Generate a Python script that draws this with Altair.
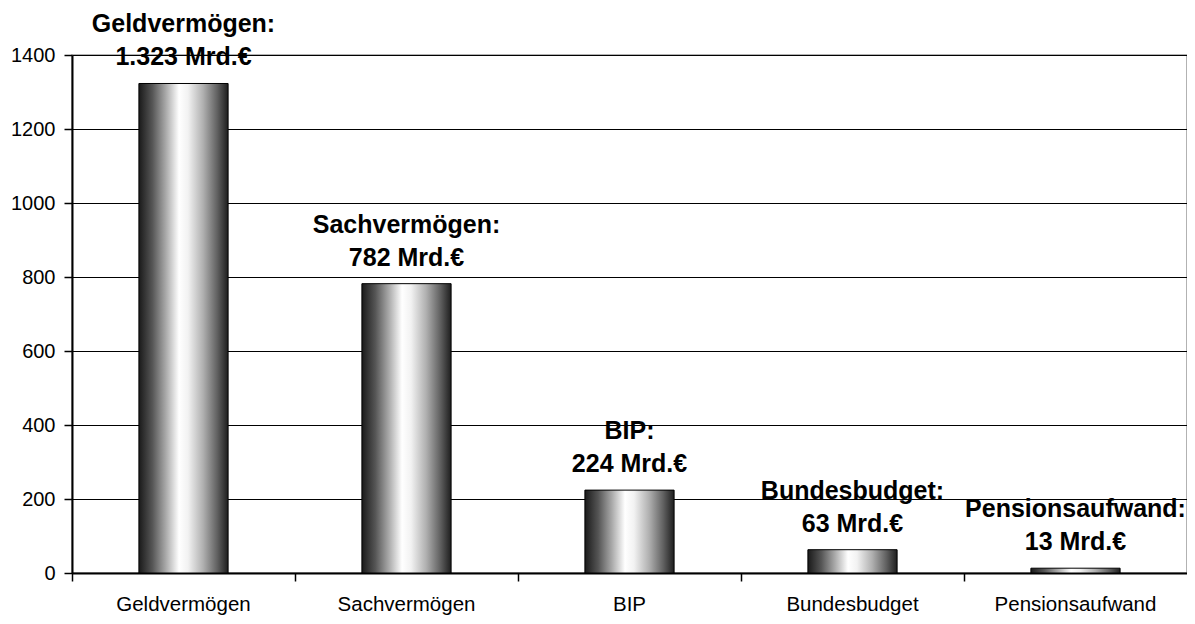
import altair as alt
import pandas as pd

categories = ["Geldvermögen", "Sachvermögen", "BIP", "Bundesbudget", "Pensionsaufwand"]
values = [1323, 782, 224, 63, 13]
label_line1 = ["Geldvermögen:", "Sachvermögen:", "BIP:", "Bundesbudget:", "Pensionsaufwand:"]
label_line2 = ["1.323 Mrd.€", "782 Mrd.€", "224 Mrd.€", "63 Mrd.€", "13 Mrd.€"]
y_ticks = [0, 200, 400, 600, 800, 1000, 1200, 1400]

df = pd.DataFrame({"cat": categories, "val": values, "l1": label_line1, "l2": label_line2})

FONT = "Liberation Sans"

x_enc = alt.X("cat:N", sort=categories, title=None,
              scale=alt.Scale(paddingInner=0, paddingOuter=0),
              axis=alt.Axis(bandPosition=0, labelAngle=0, labelFontSize=20.5, labelFont=FONT,
                            labelColor="black", labelPadding=13, tickSize=8, tickColor="black",
                            tickWidth=1.5, domainColor="black", domainWidth=2, grid=False))
y_enc = alt.Y("val:Q", title=None,
              scale=alt.Scale(domain=[0, 1400], nice=False),
              axis=alt.Axis(values=y_ticks, format="d", labelFontSize=20, labelFont=FONT,
                            labelColor="black", labelPadding=9, tickSize=8, tickColor="black",
                            tickWidth=1.5, domainColor="black", domainWidth=2, grid=True,
                            gridColor="black", gridWidth=1.2, gridOpacity=1))

grad = alt.Gradient(
    gradient="linear", x1=0, x2=1, y1=0, y2=0,
    stops=[
        alt.GradientStop(offset=0, color="#1a1a1a"),
        alt.GradientStop(offset=0.15, color="#555555"),
        alt.GradientStop(offset=0.3, color="#a8a8a8"),
        alt.GradientStop(offset=0.45, color="#ffffff"),
        alt.GradientStop(offset=0.55, color="#f2f2f2"),
        alt.GradientStop(offset=0.72, color="#b0b0b0"),
        alt.GradientStop(offset=0.88, color="#606060"),
        alt.GradientStop(offset=1, color="#1e1e1e"),
    ],
)

base = alt.Chart(df)

bars = base.mark_bar(width=alt.RelativeBandSize(0.4), color=grad, stroke="black",
                     strokeWidth=1).encode(x=x_enc, y=y_enc)

t1 = base.mark_text(font=FONT, fontSize=25, fontWeight="bold", color="black",
                    baseline="alphabetic", dy=-51).encode(
    x=alt.X("cat:N", sort=categories), y="val:Q", text="l1:N")
t2 = base.mark_text(font=FONT, fontSize=25, fontWeight="bold", color="black",
                    baseline="alphabetic", dy=-18).encode(
    x=alt.X("cat:N", sort=categories), y="val:Q", text="l2:N")

chart = alt.layer(bars, t1, t2).properties(
    width=1115, height=518,
    autosize=alt.AutoSizeParams(type="none"),
    padding={"left": 64, "top": 47, "right": 0, "bottom": 43},
    background="white",
).configure_view(stroke="#999999", strokeWidth=1.5)

chart.save("out.html", embed_options={"renderer": "svg", "actions": False})
